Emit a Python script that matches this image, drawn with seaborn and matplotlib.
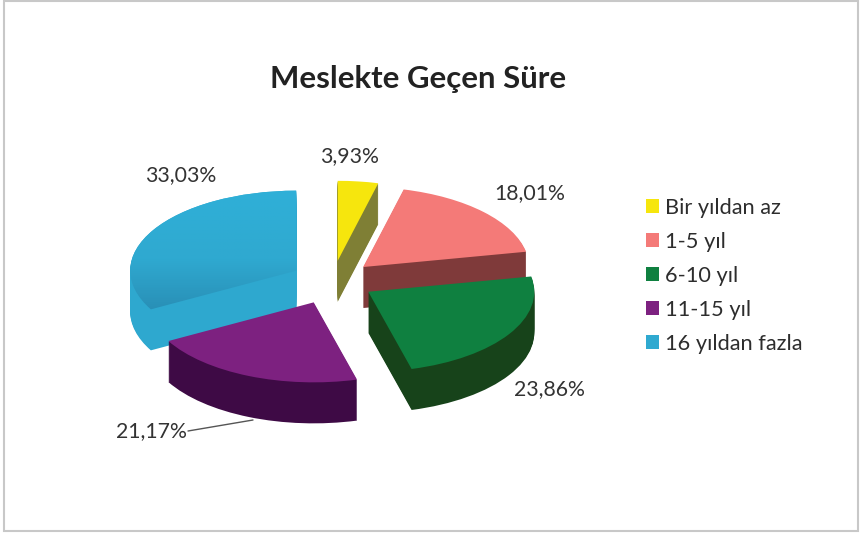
import matplotlib
matplotlib.use("Agg")
import matplotlib.pyplot as plt
import numpy as np
import seaborn as sns
from matplotlib.colors import LinearSegmentedColormap
from matplotlib.lines import Line2D
from matplotlib.patches import Patch, Rectangle

title = "Meslekte Geçen Süre"
categories = ["Bir yıldan az", "1-5 yıl", "6-10 yıl", "11-15 yıl", "16 yıldan fazla"]
values = [3.93, 18.01, 23.86, 21.17, 33.03]

top_colors = ["#f6e60d", "#f47a78", "#0f8040", "#7d2180", "#2fa9d0"]
side_colors = ["#7f7f35", "#7f3a3a", "#17431a", "#3e0a45", "#2ea8cf"]
side_order = [0, 1, 4, 2, 3]
label_pos = [(349, 156), (530, 193), (549, 389), (151, 431), (181, 175)]

W, H = 860, 533
cx, cy, rx, ry = 332.5, 281, 166, 80
depth = 41
explode = [0.254, 0.254, 0.254, 0.29, 0.254]

sns.set_theme(style="white")
plt.rcParams["font.family"] = ["Lato", "DejaVu Sans"]


def fx(x):
    return x / W


def fy(y):
    return 1 - y / H


fig = plt.figure(figsize=(8.6, 5.33), dpi=100)
ax = fig.add_axes([0, 0, 1, 1])

# stacked copies of the pie make the 3d sides
for d in range(depth, 0, -1):
    wedges, _ = ax.pie(values, explode=explode, colors=sns.color_palette(side_colors),
                       startangle=90, counterclock=False, center=(0, -d / ry))
    for i, w in enumerate(wedges):
        w.set_zorder(10 + side_order.index(i) * 100 + (depth - d))
        w.set_linewidth(0)

wedges, _ = ax.pie(values, explode=explode, colors=sns.color_palette(top_colors),
                   startangle=90, counterclock=False)
for w in wedges:
    w.set_zorder(1000)
    w.set_linewidth(0)

# blue slice has a vertical gradient on top
blue_cmap = LinearSegmentedColormap.from_list("blue", ["#2fb0d8", "#2fa9d0", "#2786ad"])
img = ax.imshow(np.linspace(0, 1, 100).reshape(-1, 1), cmap=blue_cmap, aspect="auto",
                extent=(-1.4, 0, -0.6, 1.15), zorder=1001, origin="upper")
img.set_clip_path(wedges[4])

ax.set_aspect("auto")
ax.set_xlim((0 - cx) / rx, (W - cx) / rx)
ax.set_ylim((cy - H) / ry, cy / ry)
ax.set_axis_off()

fig.text(fx(418), fy(79), title, fontsize=22.4, fontweight="bold", color="#222222",
         ha="center", va="center")

for v, (x, y) in zip(values, label_pos):
    fig.text(fx(x), fy(y), f"{v:.2f}%".replace(".", ","), fontsize=15.3, color="#333333",
             ha="center", va="center")

fig.add_artist(Line2D([fx(188), fx(253)], [fy(431), fy(420)], color="#555555", lw=1))

handles = [Patch(facecolor=c, edgecolor="none") for c in top_colors]
fig.legend(handles, categories, loc="center left", bbox_to_anchor=(fx(646), fy(276)),
           frameon=False, fontsize=15.7, labelcolor="#2d2d2d", handlelength=0.6,
           handleheight=0.6, handletextpad=0.28, labelspacing=0.64, borderpad=0, borderaxespad=0)

fig.add_artist(Rectangle((fx(4), fy(531)), fx(854), fy(1) - fy(531), fill=False,
                         edgecolor="#c8c8c8", lw=1.5, transform=fig.transFigure))

fig.savefig("out.png", dpi=100, facecolor="white")
